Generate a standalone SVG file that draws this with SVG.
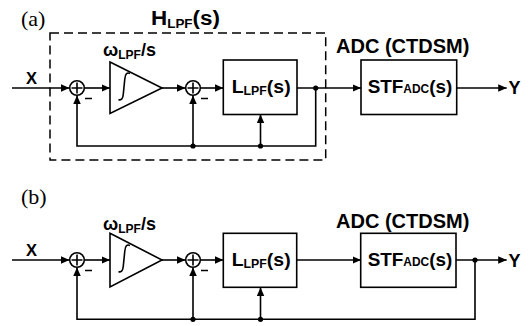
<svg xmlns="http://www.w3.org/2000/svg" width="529" height="326" viewBox="0 0 529 326">
<style>
.ln{fill:none;stroke:#000;stroke-width:1.6}
.box{fill:#fff;stroke:#000;stroke-width:1.6}
.dash{fill:none;stroke:#000;stroke-width:1.5;stroke-dasharray:9 5}
.t{font-family:"Liberation Sans",Arial,sans-serif;font-weight:bold;fill:#000}
.sub{font-size:12px}
.lbl{font-family:"Liberation Serif","Times New Roman",serif;font-size:22px;fill:#000}
.dot{fill:#000}
</style>
<defs>
<marker id="ah" markerUnits="userSpaceOnUse" markerWidth="9" markerHeight="8" refX="8.5" refY="3.75" orient="auto">
<path d="M0,0 L8.5,3.75 L0,7.5 z" fill="#000"/>
</marker>
<g id="sumShape">
<circle cx="0" cy="0" r="7.3" fill="#fff" stroke="#000" stroke-width="1.6"/>
<path d="M-5.5,0 H5.5 M0,-5.5 V5.5 M8,10.5 H15" fill="none" stroke="#000" stroke-width="1.6"/>
</g>
</defs>

<!-- (a) -->
<text class="lbl" x="21" y="26">(a)</text>
<text class="t" x="151" y="25" font-size="20" textLength="69" lengthAdjust="spacingAndGlyphs">H<tspan class="sub" dy="3">LPF</tspan><tspan dy="-3">(s)</tspan></text>
<rect id="a-hlpf-boundary" class="dash" x="50" y="33" width="275.7" height="127"/>
<text class="t" x="336" y="53.3" font-size="20">ADC (CTDSM)</text>

<g id="a-connectors">
<line class="ln" x1="12" y1="88" x2="69.5" y2="88" marker-end="url(#ah)"/>
<line class="ln" x1="84.5" y1="88" x2="110" y2="88" marker-end="url(#ah)"/>
<line class="ln" x1="162" y1="88" x2="185.5" y2="88" marker-end="url(#ah)"/>
<line class="ln" x1="200.5" y1="88" x2="223.3" y2="88" marker-end="url(#ah)"/>
<line class="ln" x1="297" y1="88" x2="361" y2="88" marker-end="url(#ah)"/>
<line class="ln" x1="456.7" y1="88" x2="506.7" y2="88" marker-end="url(#ah)"/>
<polyline class="ln" points="315.7,88 315.7,146 77,146 77,95.5" marker-end="url(#ah)"/>
<line class="ln" x1="193" y1="146" x2="193" y2="95.5" marker-end="url(#ah)"/>
<line class="ln" x1="260.5" y1="146" x2="260.5" y2="114.5" marker-end="url(#ah)"/>
<circle class="dot" cx="315.7" cy="88" r="2.6"/>
<circle class="dot" cx="193" cy="146" r="2.6"/>
<circle class="dot" cx="260.5" cy="146" r="2.6"/>
</g>

<g id="a-x"><text class="t" x="26" y="83.5" font-size="16.5">X</text></g>
<g id="a-sum1"><use href="#sumShape" x="77" y="88"/></g>
<g id="a-int">
<polygon class="box" points="110,62 162,88 110,113.5"/>
<path class="ln" d="M118.5,99.5 C121.5,101 123,98 123.3,94 L124.8,79 C125.2,74 127,72 130,73.5"/>
<text class="t" x="103" y="56" font-size="18">ω<tspan class="sub" dy="3">LPF</tspan><tspan dy="-3">/s</tspan></text>
</g>
<g id="a-sum2"><use href="#sumShape" x="193" y="88"/></g>
<g id="a-llpf">
<rect class="box" x="223.3" y="60" width="73.7" height="54.5"/>
<text class="t" x="231.7" y="93.3" font-size="19" textLength="59" lengthAdjust="spacingAndGlyphs">L<tspan class="sub" dy="2">LPF</tspan><tspan dy="-2">(s)</tspan></text>
</g>
<g id="a-stf">
<rect class="box" x="361" y="60" width="95.7" height="54.5"/>
<text class="t" x="367.7" y="93.3" font-size="19" textLength="84.6" lengthAdjust="spacingAndGlyphs">STF<tspan class="sub">ADC</tspan>(s)</text>
</g>
<g id="a-y"><text class="t" x="508.5" y="94" font-size="18">Y</text></g>

<!-- (b) -->
<text class="lbl" x="21" y="204">(b)</text>
<text class="t" x="336" y="228.3" font-size="20">ADC (CTDSM)</text>

<g id="b-connectors">
<line class="ln" x1="12" y1="260" x2="69.5" y2="260" marker-end="url(#ah)"/>
<line class="ln" x1="84.5" y1="260" x2="110" y2="260" marker-end="url(#ah)"/>
<line class="ln" x1="162" y1="260" x2="185.5" y2="260" marker-end="url(#ah)"/>
<line class="ln" x1="200.5" y1="260" x2="223.3" y2="260" marker-end="url(#ah)"/>
<line class="ln" x1="297" y1="260" x2="361" y2="260" marker-end="url(#ah)"/>
<line class="ln" x1="456" y1="260" x2="506.7" y2="260" marker-end="url(#ah)"/>
<polyline class="ln" points="475,260 475,319.3 77,319.3 77,267.5" marker-end="url(#ah)"/>
<line class="ln" x1="193" y1="319.3" x2="193" y2="267.5" marker-end="url(#ah)"/>
<line class="ln" x1="260.5" y1="319.3" x2="260.5" y2="287.5" marker-end="url(#ah)"/>
<circle class="dot" cx="475" cy="260" r="2.6"/>
<circle class="dot" cx="193" cy="319.3" r="2.6"/>
<circle class="dot" cx="260.5" cy="319.3" r="2.6"/>
</g>

<g id="b-x"><text class="t" x="26" y="256" font-size="16.5">X</text></g>
<g id="b-sum1"><use href="#sumShape" x="77" y="260"/></g>
<g id="b-int">
<polygon class="box" points="110,233.3 162,260 110,287"/>
<path class="ln" d="M118.5,271.5 C121.5,273 123,270 123.3,266 L124.8,251 C125.2,246 127,244 130,245.5"/>
<text class="t" x="103" y="229.5" font-size="18">ω<tspan class="sub" dy="3">LPF</tspan><tspan dy="-3">/s</tspan></text>
</g>
<g id="b-sum2"><use href="#sumShape" x="193" y="260"/></g>
<g id="b-llpf">
<rect class="box" x="223.3" y="233.3" width="73.4" height="54"/>
<text class="t" x="231.7" y="266" font-size="19" textLength="59" lengthAdjust="spacingAndGlyphs">L<tspan class="sub" dy="2">LPF</tspan><tspan dy="-2">(s)</tspan></text>
</g>
<g id="b-stf">
<rect class="box" x="360.7" y="233.3" width="95.3" height="54"/>
<text class="t" x="367.7" y="266" font-size="19" textLength="84.6" lengthAdjust="spacingAndGlyphs">STF<tspan class="sub">ADC</tspan>(s)</text>
</g>
<g id="b-y"><text class="t" x="508.5" y="266.5" font-size="18">Y</text></g>
</svg>
